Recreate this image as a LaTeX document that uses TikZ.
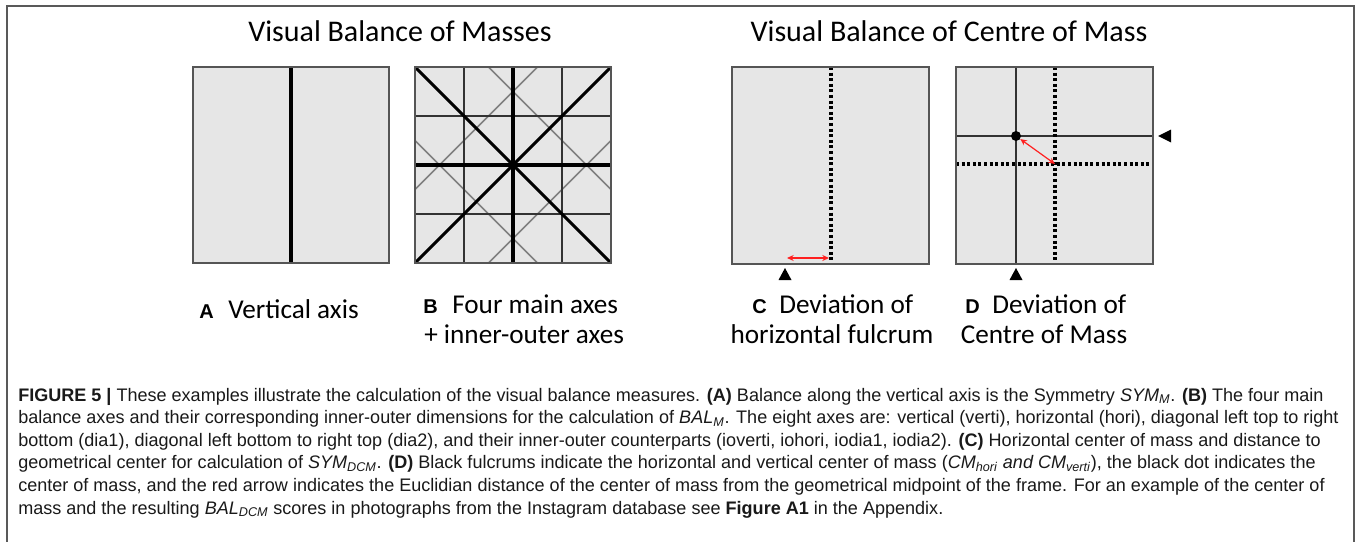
\documentclass[tikz,border=0pt]{standalone}
\usepackage{fontspec}
\setmainfont{Liberation Sans}
\newfontfamily\calib{Carlito}
\newfontfamily\capfont[FakeStretch=0.995]{Liberation Sans}
\usetikzlibrary{arrows.meta}
\definecolor{boxfill}{HTML}{E6E6E6}
\definecolor{boxgray}{HTML}{555555}
\definecolor{arrred}{HTML}{FF2020}
\newcommand\sbs[1]{\textsubscript{\textit{#1}}}
\begin{document}
\begin{tikzpicture}[x=0.75pt,y=-0.75pt,
  panel/.style={draw=boxgray, line width=1.5pt},
  panelfill/.style={fill=boxfill},
  mainaxis/.style={line width=2.3pt, draw=black},
  gridline/.style={line width=1.1pt, draw=black!80},
  ioline/.style={line width=1.1pt, draw=black!50},
  dotline/.style={line width=2.6pt, draw=black, dash pattern=on 2.3pt off 1.9pt},
  redarrow/.style={draw=arrred, line width=0.9pt, {Stealth[length=5pt,width=4.5pt]}-{Stealth[length=5pt,width=4.5pt]}},
  fulcrum/.style={fill=black, draw=none},
  cmdot/.style={circle, fill=black, inner sep=0pt, minimum size=7.5pt},
  title/.style={font=\calib\fontsize{22.5}{26}\selectfont, anchor=base, inner sep=0pt},
  lab/.style={font=\calib\fontsize{20.4}{24}\selectfont, anchor=base west, inner sep=0pt},
  letter/.style={font=\fontsize{15}{17}\selectfont\bfseries, anchor=base west, inner sep=0pt},
  capline/.style={font=\capfont\fontsize{13.6}{16}\selectfont, anchor=base west, inner sep=0pt, text=black!90}
]
\useasboundingbox (0,0) rectangle (1357,542);
% outer frame
\draw[line width=1.1pt, draw=black!65] (7,542) -- (7,6) -- (1354,6) -- (1354,542);

% titles
\node[title] (t1) at (400,42) {Visual Balance of Masses};
\node[title] (t2) at (949,42) {Visual Balance of Centre of Mass};

% ---------- Panel A ----------
\fill[panelfill] (193,67) rectangle (389,263);
\draw[mainaxis] (291,67) -- (291,263);
\draw[panel] (193,67) rectangle (389,263);

% ---------- Panel B ----------
\fill[panelfill] (415,67) rectangle (611,263);
\draw[ioline] (488.5,67) -- (611,189.5);
\draw[ioline] (537.5,67) -- (415,189.5);
\draw[ioline] (415,140.5) -- (537.5,263);
\draw[ioline] (611,140.5) -- (488.5,263);
\draw[gridline] (464,67) -- (464,263);
\draw[gridline] (562,67) -- (562,263);
\draw[gridline] (415,116) -- (611,116);
\draw[gridline] (415,214) -- (611,214);
\draw[mainaxis] (513,67) -- (513,263);
\draw[mainaxis] (415,165) -- (611,165);
\draw[mainaxis] (415,67) -- (611,263);
\draw[mainaxis] (415,263) -- (611,67);
\draw[panel] (415,67) rectangle (611,263);

% ---------- Panel C ----------
\fill[panelfill] (732,67) rectangle (929,264);
\draw[dotline] (831,67) -- (831,264);
\coordinate (ca) at (787,258);
\coordinate (cb) at (829,258);
\draw[redarrow] (ca) -- (cb);
\draw[panel] (732,67) rectangle (929,264);
\fill[fulcrum] (785,268) -- (791.5,280) -- (778.5,280) -- cycle;

% ---------- Panel D ----------
\fill[panelfill] (956,67) rectangle (1153,264);
\draw[gridline] (1016,67) -- (1016,264);
\draw[gridline] (956,136) -- (1153,136);
\draw[dotline] (1055,67) -- (1055,264);
\draw[dotline] (956,164) -- (1153,164);
\node[cmdot] (cm) at (1016,136) {};
\coordinate (gc) at (1055,164);
\draw[redarrow] (cm) -- (gc);
\draw[panel] (956,67) rectangle (1153,264);
\fill[fulcrum] (1016,268) -- (1022.5,280) -- (1009.5,280) -- cycle;
\fill[fulcrum] (1158,136) -- (1171,129.5) -- (1171,142.5) -- cycle;

% ---------- Labels ----------
\node[letter] (la) at (199,318) {A};
\node[lab] (lva) at (228,318) {Vertical axis};
\node[letter] (lb) at (423,313) {B};
\node[lab] (lfb) at (452,313) {Four main axes};
\node[lab] (lib) at (424,343) {+ inner-outer axes};
\node[letter] (lc) at (752,313) {C};
\node[lab] (ldc) at (779,313) {Deviation of};
\node[lab, anchor=base] (lhc) at (832,343) {horizontal fulcrum};
\node[letter] (ld) at (965,313) {D};
\node[lab] (ldd) at (992,313) {Deviation of};
\node[lab, anchor=base] (lcd) at (1044,343) {Centre of Mass};

% ---------- Caption ----------
\node[capline] (c1) at (18,401) {\textbf{FIGURE 5 |} These examples illustrate the calculation of the visual balance measures. \textbf{(A)} Balance along the vertical axis is the Symmetry \textit{SYM}\sbs{M}. \textbf{(B)} The four main};
\node[capline] (c2) at (18,423.6) {balance axes and their corresponding inner-outer dimensions for the calculation of \textit{BAL}\sbs{M}. The eight axes are: vertical (verti), horizontal (hori), diagonal left top to right};
\node[capline] (c3) at (18,446.2) {bottom (dia1), diagonal left bottom to right top (dia2), and their inner-outer counterparts (ioverti, iohori, iodia1, iodia2). \textbf{(C)} Horizontal center of mass and distance to};
\node[capline] (c4) at (18,468.8) {geometrical center for calculation of \textit{SYM}\sbs{DCM}. \textbf{(D)} Black fulcrums indicate the horizontal and vertical center of mass (\textit{CM}\sbs{hori} \textit{and CM}\sbs{verti}), the black dot indicates the};
\node[capline] (c5) at (18,491.4) {center of mass, and the red arrow indicates the Euclidian distance of the center of mass from the geometrical midpoint of the frame. For an example of the center of};
\node[capline] (c6) at (18,514) {mass and the resulting \textit{BAL}\sbs{DCM} scores in photographs from the Instagram database see \textbf{Figure A1} in the Appendix.};
\end{tikzpicture}
\end{document}
